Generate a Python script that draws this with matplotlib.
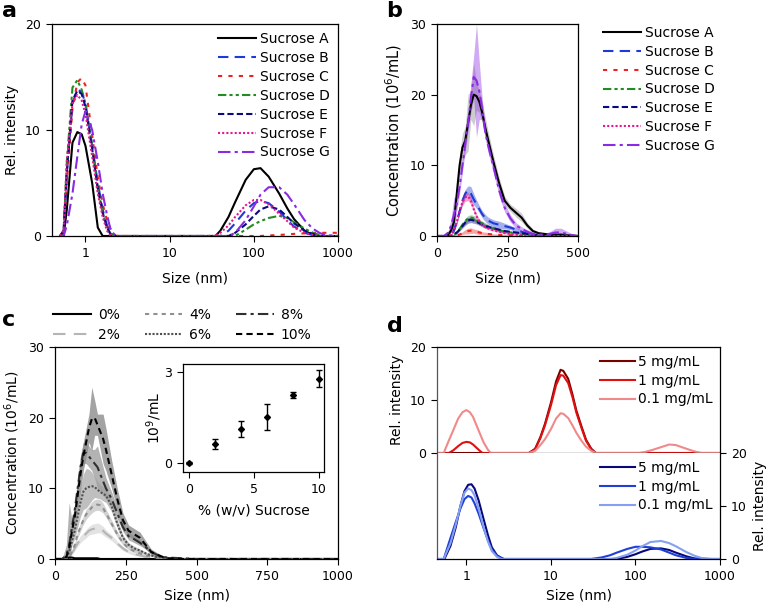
import matplotlib
matplotlib.use('Agg')
import matplotlib.pyplot as plt

plt.rcParams['font.family'] = ['DejaVu Sans']
plt.rcParams['font.size'] = 10
plt.rcParams['xtick.labelsize'] = 9
plt.rcParams['ytick.labelsize'] = 9
plt.rcParams['xtick.direction'] = 'out'
plt.rcParams['ytick.direction'] = 'out'
plt.rcParams['xtick.major.size'] = 4.5
plt.rcParams['ytick.major.size'] = 4.5
plt.rcParams['axes.linewidth'] = 0.9

# ---- panel a : DLS intensity distributions ----
a_size = [0.5, 0.55, 0.6, 0.7, 0.8, 0.9, 1.0, 1.2, 1.4, 1.6, 1.8, 2.0, 2.3, 2.6, 3.0, 10,
          30, 35, 40, 50, 60, 80, 100, 120, 150, 200, 250, 300, 400, 500, 600, 700, 1000]
a_A = [0, 0, 2.5, 8.8, 9.8, 9.6, 8.5, 5, 0.8, 0, 0, 0, 0, 0, 0, 0,
       0, 0, 0.5, 1.8, 3.2, 5.3, 6.3, 6.4, 5.6, 4.0, 2.6, 1.6, 0.5, 0.1, 0, 0, 0]
a_B = [0, 0.5, 6, 12.5, 13.8, 13.6, 12.5, 8.5, 5, 2.5, 1, 0.2, 0, 0, 0, 0,
       0, 0, 0, 0.5, 1.2, 2.4, 3.1, 3.3, 3.1, 2.3, 1.5, 0.9, 0.3, 0.1, 0, 0, 0]
a_C = [0, 0.5, 5, 12, 14.5, 14.9, 14.2, 9.5, 5.5, 3, 1.5, 0.6, 0, 0, 0, 0,
       0, 0, 0, 0, 0, 0, 0, 0, 0.05, 0.1, 0.15, 0.2, 0.25, 0.3, 0.3, 0.3, 0.3]
a_D = [0, 0.5, 7, 14, 14.7, 13.8, 12.5, 8.5, 4.5, 2.2, 0.8, 0.2, 0, 0, 0, 0,
       0, 0, 0, 0, 0, 0.6, 1.1, 1.4, 1.7, 1.9, 1.7, 1.3, 0.7, 0.3, 0.1, 0, 0]
a_E = [0, 0.5, 6, 12.8, 13.7, 13.4, 12.2, 8.2, 4.5, 2.2, 0.8, 0.1, 0, 0, 0, 0,
       0, 0, 0, 0, 0.3, 1.1, 1.9, 2.5, 2.8, 2.5, 1.8, 1.2, 0.5, 0.2, 0, 0, 0]
a_F = [0, 0.5, 7, 12.5, 13.3, 12.8, 11.5, 7.5, 4, 1.8, 0.5, 0, 0, 0, 0, 0,
       0, 0, 0.3, 1.0, 1.8, 2.9, 3.4, 3.4, 3.0, 2.1, 1.4, 0.8, 0.3, 0.1, 0, 0, 0]
a_G = [0, 0, 1, 4, 7.5, 10.5, 11.8, 10, 7, 4, 2, 0.5, 0, 0, 0, 0,
       0, 0, 0, 0, 0.3, 1.5, 2.8, 3.9, 4.6, 4.6, 3.9, 3.0, 1.5, 0.7, 0.3, 0.1, 0]

# ---- panel b : NTA size distributions (mean, sd) ----
b_size = [0, 25, 40, 50, 60, 70, 80, 90, 100, 110, 120, 130, 140, 150, 160, 170, 180, 200,
          220, 240, 260, 280, 300, 320, 340, 360, 380, 400, 420, 440, 460, 480, 500]
b_A = [0, 0, 0.2, 0.8, 2, 6, 10, 12.5, 13.5, 16, 18.5, 20, 19.8, 19, 17.5, 15.5, 13.8, 10.5,
       7.5, 5, 4, 3.3, 2.6, 1.5, 0.7, 0.4, 0.3, 0.2, 0.2, 0.2, 0.1, 0.05, 0]
b_A_sd = [0, 0, 0.1, 0.3, 0.6, 1, 1.5, 2, 2, 4, 2, 4.4, 2, 1.5, 1.5, 1.5, 1.2, 1,
          0.8, 0.6, 0.5, 0.6, 0.6, 0.4, 0.3, 0.2, 0.1, 0.1, 0.1, 0.1, 0.1, 0, 0]
b_B = [0, 0, 0, 0.2, 0.8, 2, 3.5, 5, 6, 6.5, 6, 5.2, 4.5, 3.8, 3.1, 2.6, 2.2, 1.8,
       1.6, 1.4, 1.2, 0.9, 0.6, 0.3, 0.1, 0, 0, 0, 0, 0, 0, 0, 0]
b_B_sd = [0, 0, 0, 0.1, 0.2, 0.3, 0.4, 0.5, 0.6, 0.6, 1, 0.8, 0.6, 0.5, 0.5, 0.5, 0.5, 0.5,
          0.5, 0.4, 0.3, 0.3, 0.2, 0.1, 0.1, 0, 0, 0, 0, 0, 0, 0, 0]
b_C = [0, 0, 0, 0, 0.05, 0.1, 0.2, 0.4, 0.6, 0.7, 0.75, 0.7, 0.6, 0.5, 0.4, 0.35, 0.3, 0.2,
       0.15, 0.1, 0.1, 0.05, 0, 0, 0, 0, 0, 0, 0, 0, 0, 0, 0]
b_C_sd = [0, 0, 0, 0, 0.05, 0.1, 0.1, 0.2, 0.3, 0.4, 0.4, 0.3, 0.3, 0.3, 0.2, 0.2, 0.2, 0.1,
          0.1, 0.1, 0.05, 0.05, 0, 0, 0, 0, 0, 0, 0, 0, 0, 0, 0]
b_D = [0, 0, 0, 0, 0.2, 0.5, 1, 1.6, 2.1, 2.5, 2.6, 2.5, 2.2, 2, 1.8, 1.6, 1.4, 1.1,
       0.8, 0.6, 0.5, 0.4, 0.3, 0.2, 0.1, 0, 0, 0, 0, 0, 0, 0, 0]
b_D_sd = [0, 0, 0, 0, 0.1, 0.2, 0.2, 0.3, 0.4, 0.4, 0.4, 0.4, 0.3, 0.3, 0.3, 0.3, 0.2, 0.2,
          0.2, 0.2, 0.1, 0.1, 0.1, 0.1, 0, 0, 0, 0, 0, 0, 0, 0, 0]
b_E = [0, 0, 0, 0, 0.2, 0.5, 0.9, 1.4, 1.9, 2.2, 2.3, 2.2, 2.0, 1.8, 1.6, 1.4, 1.3, 1.1,
       0.9, 0.7, 0.6, 0.5, 0.4, 0.3, 0.2, 0.1, 0, 0, 0, 0, 0, 0, 0]
b_E_sd = [0, 0, 0, 0, 0.1, 0.2, 0.2, 0.3, 0.4, 0.4, 0.4, 0.4, 0.3, 0.3, 0.3, 0.3, 0.2, 0.2,
          0.2, 0.2, 0.1, 0.1, 0.1, 0.1, 0, 0, 0, 0, 0, 0, 0, 0, 0]
b_F = [0, 0, 0, 0.2, 0.8, 2, 3.5, 4.8, 5.5, 5.6, 5, 3.8, 2.8, 2.1, 1.6, 1.3, 1.1, 0.8,
       0.6, 0.4, 0.3, 0.2, 0.1, 0, 0, 0, 0, 0, 0, 0, 0, 0, 0]
b_F_sd = [0, 0, 0, 0.1, 0.2, 0.3, 0.4, 0.5, 0.6, 0.6, 0.5, 0.4, 0.3, 0.3, 0.2, 0.2, 0.2, 0.1,
          0.1, 0.1, 0.1, 0.1, 0, 0, 0, 0, 0, 0, 0, 0, 0, 0, 0]
b_G = [0, 0, 0.5, 1.5, 3, 4.5, 7, 10, 13, 16, 19.5, 22.5, 22, 20.5, 18, 15, 13, 9.8,
       6.5, 4, 2.5, 1.5, 1, 0.6, 0.3, 0.2, 0.2, 0.3, 0.5, 0.5, 0.3, 0.1, 0]
b_G_sd = [0, 0, 0.3, 1, 2.5, 1, 1, 1, 1, 1.2, 2, 3, 8, 4, 1.5, 1, 1, 0.8,
          0.8, 0.6, 0.5, 0.4, 0.3, 0.3, 0.2, 0.2, 0.2, 0.3, 0.6, 0.6, 0.4, 0.2, 0]

sucrose_labels = ['Sucrose A', 'Sucrose B', 'Sucrose C', 'Sucrose D', 'Sucrose E', 'Sucrose F', 'Sucrose G']

# ---- panel c : NTA vs sucrose percentage ----
c_size = [0, 25, 40, 50, 60, 70, 80, 90, 100, 110, 120, 130, 140, 150, 160, 170, 180, 200,
          220, 240, 260, 280, 300, 320, 340, 360, 380, 400, 450, 500, 600, 700, 800, 900, 1000]
c_0 = [0, 0, 0.1, 0.2, 0.2, 0.1, 0.1, 0.1, 0.1, 0.1, 0.1, 0.1, 0.1, 0.1, 0, 0, 0, 0,
       0, 0, 0, 0, 0, 0, 0, 0, 0, 0, 0, 0, 0, 0, 0, 0, 0]
c_2 = [0, 0, 0, 0.3, 0.8, 1.5, 2.2, 2.8, 3.2, 3.6, 4, 4.2, 4.3, 4.4, 4.3, 4, 3.6, 3,
       2.2, 1.5, 1, 0.7, 0.5, 0.3, 0.2, 0.1, 0, 0, 0, 0, 0, 0, 0, 0, 0]
c_2_sd = [0, 0, 0, 0.1, 0.2, 0.3, 0.4, 0.5, 0.5, 0.6, 0.6, 0.7, 0.7, 0.7, 0.6, 0.6, 0.5, 0.4,
          0.3, 0.3, 0.2, 0.2, 0.1, 0.1, 0, 0, 0, 0, 0, 0, 0, 0, 0, 0, 0]
c_4 = [0, 0, 0, 0.3, 1, 2, 3.5, 4.5, 5.5, 6.3, 6.8, 7.3, 7.6, 7.7, 7.6, 7.2, 6.5, 5,
       3.5, 2.3, 1.5, 1.1, 0.8, 0.5, 0.3, 0.2, 0.1, 0, 0, 0, 0, 0, 0, 0, 0]
c_4_sd = [0, 0, 0, 0.1, 0.3, 0.4, 0.5, 0.6, 0.6, 0.7, 0.7, 0.8, 0.8, 0.8, 0.8, 0.7, 0.6, 0.5,
          0.4, 0.3, 0.2, 0.2, 0.1, 0.1, 0, 0, 0, 0, 0, 0, 0, 0, 0, 0, 0]
c_6 = [0, 0, 0.2, 1, 2.5, 4, 6, 8, 9.5, 10, 10.2, 10.3, 10.2, 9.8, 9.5, 9.2, 9, 7.5,
       5, 3, 2, 1.5, 1.2, 0.8, 0.5, 0.3, 0.2, 0.1, 0, 0, 0, 0, 0, 0, 0]
c_6_sd = [0, 0, 0.1, 0.3, 0.6, 1, 1.5, 2, 2.5, 2.8, 2.5, 2, 1.5, 1.2, 1, 1, 1, 0.8,
          0.6, 0.4, 0.3, 0.3, 0.2, 0.2, 0.1, 0.1, 0, 0, 0, 0, 0, 0, 0, 0, 0]
c_8 = [0, 0, 0.5, 2, 4.5, 7, 10, 13, 15, 15, 14.5, 14, 13.5, 13, 12, 11, 10, 8.5,
       6.5, 4.5, 3.2, 2.8, 2.3, 1.7, 1, 0.6, 0.3, 0.2, 0.1, 0, 0, 0, 0, 0, 0]
c_8_sd = [0, 0, 1.5, 6, 1, 1, 1.5, 1.5, 1.5, 1.5, 1.5, 1.5, 2, 3, 2.5, 2, 1.5, 1,
          0.8, 0.6, 0.5, 0.5, 0.4, 0.3, 0.2, 0.1, 0.1, 0.1, 0, 0, 0, 0, 0, 0, 0]
c_10 = [0, 0, 0.3, 1.5, 4, 6, 9, 12, 14.5, 16.5, 18.5, 19.8, 20, 19, 18, 17, 15.5, 12,
        8.5, 5.5, 4, 3.5, 3, 2, 1, 0.6, 0.3, 0.1, 0, 0, 0, 0, 0, 0, 0]
c_10_sd = [0, 0, 0.2, 0.5, 1, 1.5, 2, 2.5, 2, 2, 2, 4.5, 2.5, 1.5, 2.5, 3.5, 3, 2,
           1.5, 1, 0.8, 0.8, 0.8, 0.6, 0.4, 0.3, 0.2, 0.1, 0, 0, 0, 0, 0, 0, 0]
pct_labels = ['0%', '2%', '4%', '6%', '8%', '10%']

# inset: total concentration
inset_pct = [0, 2, 4, 6, 8, 10]
inset_conc = [0, 0.63, 1.12, 1.51, 2.24, 2.78]
inset_err = [0.02, 0.17, 0.25, 0.43, 0.11, 0.27]

# ---- panel d : DLS at different concentrations ----
d_labels = ['5 mg/mL', '1 mg/mL', '0.1 mg/mL']
r5_x = [0.45, 5.5, 6.5, 7.5, 8.5, 10, 11.5, 13, 14, 16, 18, 20, 23, 26, 30, 34, 1000]
r5_y = [0, 0, 0.8, 3, 5.5, 9.5, 13.5, 15.7, 15.5, 14, 11, 8, 5, 2.5, 0.8, 0, 0]
r1_x = [0.45, 0.62, 0.7, 0.8, 0.9, 1.0, 1.1, 1.2, 1.4, 1.55, 5.5, 6.5, 7.5, 8.5, 10, 11.5,
        13, 14, 16, 18, 20, 23, 26, 30, 34, 1000]
r1_y = [0, 0, 0.5, 1.3, 1.9, 2.1, 2.0, 1.6, 0.6, 0, 0, 0.7, 2.8, 5.2, 9, 12.8,
        14.7, 14.6, 13.2, 10.5, 7.6, 4.7, 2.3, 0.7, 0, 0]
r01_x = [0.45, 0.54, 0.6, 0.7, 0.8, 0.9, 1.0, 1.1, 1.2, 1.4, 1.6, 1.8, 1.95, 5.5, 6.5, 7.5,
         8.5, 10, 11.5, 13, 14, 16, 18, 20, 23, 26, 30, 34, 110, 130, 160, 200, 250, 300,
         400, 500, 600, 1000]
r01_y = [0, 0, 1.8, 4.3, 6.5, 7.7, 8.1, 7.7, 6.8, 4.2, 2, 0.6, 0, 0, 0.4, 1.5,
         2.6, 4.5, 6.5, 7.5, 7.4, 6.6, 5.2, 3.8, 2.3, 1.2, 0.4, 0, 0, 0.2, 0.6, 1.1, 1.6, 1.5,
         0.8, 0.3, 0, 0]
b5_x = [0.45, 0.55, 0.65, 0.75, 0.85, 0.95, 1.05, 1.15, 1.25, 1.4, 1.6, 1.8, 2.0, 2.3, 2.7,
        60, 80, 100, 120, 150, 200, 250, 300, 400, 500, 700, 1000]
b5_y = [0, 0, 2.5, 6, 10, 12.8, 14, 14.1, 13.3, 11, 7.5, 4.5, 2.2, 0.7, 0,
        0, 0.4, 0.9, 1.4, 1.9, 2.0, 1.7, 1.2, 0.5, 0.1, 0, 0]
b1_x = [0.45, 0.54, 0.65, 0.75, 0.85, 0.95, 1.05, 1.15, 1.25, 1.4, 1.6, 1.8, 2.0, 2.3, 2.8,
        30, 40, 50, 60, 80, 100, 120, 150, 200, 250, 300, 400, 500, 1000]
b1_y = [0, 0, 4, 7, 9.5, 11.3, 11.9, 11.6, 10.5, 8.5, 5.8, 3.5, 1.8, 0.6, 0,
        0, 0.3, 0.7, 1.2, 1.9, 2.3, 2.3, 2.2, 1.8, 1.2, 0.7, 0.2, 0, 0]
b01_x = [0.45, 0.54, 0.65, 0.75, 0.85, 0.95, 1.05, 1.15, 1.25, 1.4, 1.6, 1.8, 2.0, 2.3, 2.6,
         50, 60, 80, 100, 120, 150, 200, 250, 300, 400, 500, 600, 800, 1000]
b01_y = [0, 0, 3, 6.5, 10, 12.5, 13.3, 13, 12, 9.5, 6, 3.3, 1.5, 0.4, 0,
         0, 0.2, 0.8, 1.6, 2.4, 3.2, 3.4, 3.0, 2.4, 1.3, 0.6, 0.2, 0, 0]

suc_colors = ['black', '#1d3bd6', '#ee2222', '#228b22', '#0a0a80', '#e8168c', '#8a2be2']
suc_styles = ['-', (0, (5, 3)), (0, (2, 3)), (0, (4, 1.5, 1.5, 1.5, 1.5, 1.5)),
              (0, (3, 1.5)), (0, (1, 1)), (0, (6, 2, 1.5, 2))]

fig = plt.figure(figsize=(7.67, 6.07), dpi=100)

# a
ax_a = fig.add_axes([0.0678, 0.6112, 0.3729, 0.3493])
for y, lab, col, ls in zip([a_A, a_B, a_C, a_D, a_E, a_F, a_G], sucrose_labels, suc_colors, suc_styles):
    ax_a.plot(a_size, y, color=col, ls=ls, lw=1.5, label=lab)
ax_a.set_xscale('log')
ax_a.set_xlim(0.4, 1000)
ax_a.set_ylim(0, 20)
ax_a.set_yticks([0, 10, 20])
ax_a.set_xticks([1, 10, 100, 1000])
ax_a.set_xticklabels(['1', '10', '100', '1000'])
ax_a.minorticks_off()
ax_a.set_xlabel('Size (nm)', labelpad=8)
ax_a.set_ylabel('Rel. intensity')
ax_a.legend(loc='upper right', frameon=False, handlelength=2.7, handletextpad=0.3,
            labelspacing=0.35, borderaxespad=0.2, fontsize=10)

# b
ax_b = fig.add_axes([0.5698, 0.6112, 0.1838, 0.3493])
b_means = [b_A, b_B, b_C, b_D, b_E, b_F, b_G]
b_sds = [b_A_sd, b_B_sd, b_C_sd, b_D_sd, b_E_sd, b_F_sd, b_G_sd]
band_cols = ['#808080', '#1d3bd6', '#ee2222', '#228b22', '#0a0a80', '#e8168c', '#8a2be2']
for m, s, bc in zip(b_means, b_sds, band_cols):
    lo = [v - e for v, e in zip(m, s)]
    hi = [v + e for v, e in zip(m, s)]
    ax_b.fill_between(b_size, lo, hi, color=bc, alpha=0.4, lw=0)
for m, lab, col, ls in zip(b_means, sucrose_labels, suc_colors, suc_styles):
    ax_b.plot(b_size, m, color=col, ls=ls, lw=1.5, label=lab)
ax_b.set_xlim(0, 500)
ax_b.set_ylim(0, 30)
ax_b.set_xticks([0, 250, 500])
ax_b.set_yticks([0, 10, 20, 30])
ax_b.set_xlabel('Size (nm)', labelpad=8)
ax_b.set_ylabel('Concentration (10$^6$/mL)', fontsize=10.5)
ax_b.legend(loc='upper left', bbox_to_anchor=(1.09, 1.05), frameon=False, handlelength=2.7,
            handletextpad=0.3, labelspacing=0.35, fontsize=10)

# c
ax_c = fig.add_axes([0.0717, 0.0791, 0.3690, 0.3493])
c_means = [c_0, c_2, c_4, c_6, c_8, c_10]
c_sds = [None, c_2_sd, c_4_sd, c_6_sd, c_8_sd, c_10_sd]
c_band = [None, '#dcdcdc', '#c8c8c8', '#b0b0b0', '#a0a0a0', '#8c8c8c']
c_colors = ['black', '#b5b5b5', '#909090', '#505050', '#303030', 'black']
c_styles = ['-', (0, (6, 4)), (0, (2, 2)), (0, (1, 0.8)), (0, (5, 2, 1.5, 2)), (0, (3, 2))]
for m, s, bc in zip(c_means, c_sds, c_band):
    if s is None:
        continue
    lo = [v - e for v, e in zip(m, s)]
    hi = [v + e for v, e in zip(m, s)]
    ax_c.fill_between(c_size, lo, hi, color=bc, alpha=0.8, lw=0)
for m, lab, col, ls in zip(c_means, pct_labels, c_colors, c_styles):
    ax_c.plot(c_size, m, color=col, ls=ls, lw=1.5, label=lab)
ax_c.set_xlim(0, 1000)
ax_c.set_ylim(0, 30)
ax_c.set_xticks([0, 250, 500, 750, 1000])
ax_c.set_yticks([0, 10, 20, 30])
ax_c.set_xlabel('Size (nm)')
ax_c.set_ylabel('Concentration (10$^6$/mL)')
ax_c.legend(loc='lower left', bbox_to_anchor=(-0.03, 0.99), ncol=3, frameon=False,
            handlelength=2.7, handletextpad=0.5, columnspacing=1.8, labelspacing=0.45,
            fontsize=10, borderaxespad=0.1)

ax_in = fig.add_axes([0.2386, 0.2224, 0.1838, 0.1779])
ax_in.errorbar(inset_pct, inset_conc, yerr=inset_err, fmt='D', color='black', ms=3,
               capsize=2, elinewidth=1, capthick=1)
ax_in.set_xlim(-0.46, 10.4)
ax_in.set_ylim(-0.3, 3.26)
ax_in.set_xticks([0, 5, 10])
ax_in.set_yticks([0, 3])
ax_in.set_xlabel('% (w/v) Sucrose', labelpad=5)
ax_in.set_ylabel('10$^9$/mL', labelpad=0)

# d top (red) and bottom (blue)
ax_d1 = fig.add_axes([0.5698, 0.2537, 0.3690, 0.1746])
ax_d2 = fig.add_axes([0.5698, 0.0791, 0.3690, 0.1746])
red_cols = ['#7a0000', '#e01010', '#f08a8a']
blue_cols = ['#08087a', '#1f3fd6', '#85a0f0']
for x, y, col, lab in zip([r5_x, r1_x, r01_x], [r5_y, r1_y, r01_y], red_cols, d_labels):
    ax_d1.plot(x, y, color=col, lw=1.5, label=lab)
for x, y, col, lab in zip([b5_x, b1_x, b01_x], [b5_y, b1_y, b01_y], blue_cols, d_labels):
    ax_d2.plot(x, y, color=col, lw=1.5, label=lab)
for ax in (ax_d1, ax_d2):
    ax.set_xscale('log')
    ax.set_xlim(0.45, 1000)
    ax.set_ylim(0, 20)
    ax.minorticks_off()
    ax.legend(loc='upper right', frameon=False, handlelength=2.5, handletextpad=0.2,
              labelspacing=0.35, borderaxespad=0.15, fontsize=10)
ax_d1.set_xticks([])
ax_d1.set_yticks([0, 10, 20])
ax_d1.set_ylabel('Rel. intensity')
ax_d1.spines['left'].set_color('#555555')
ax_d2.spines['left'].set_color('#555555')
ax_d2.spines['top'].set_visible(False)
ax_d2.yaxis.tick_right()
ax_d2.yaxis.set_label_position('right')
ax_d2.set_yticks([0, 10, 20])
ax_d2.set_ylabel('Rel. intensity')
ax_d2.set_xticks([1, 10, 100, 1000])
ax_d2.set_xticklabels(['1', '10', '100', '1000'])
ax_d2.set_xlabel('Size (nm)')

for lab, x, y in [('a', 0.003, 0.998), ('b', 0.503, 0.998), ('c', 0.003, 0.49), ('d', 0.505, 0.48)]:
    fig.text(x, y, lab, fontsize=16, fontweight='bold', va='top')

fig.savefig('out.png', dpi=100)
